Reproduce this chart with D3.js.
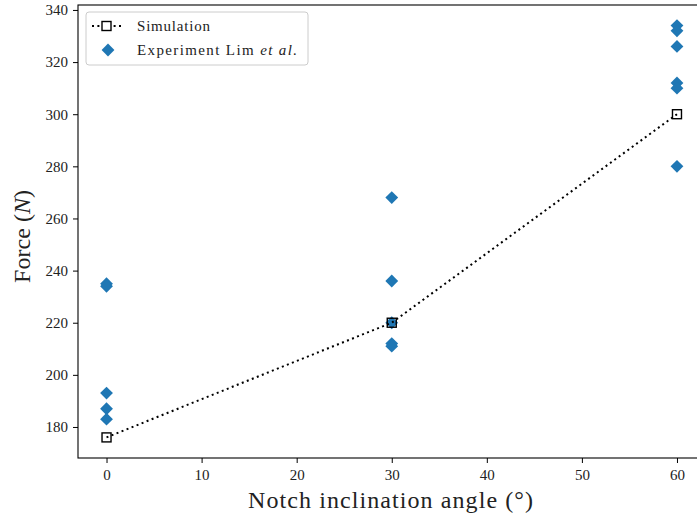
<!DOCTYPE html>
<html>
<head>
<meta charset="utf-8">
<script src="https://cdn.jsdelivr.net/npm/d3@7"></script>
<style>
  body { margin: 0; background: #fff; }
  text { font-family: "Liberation Serif", "DejaVu Serif", serif; }
</style>
</head>
<body>
<div id="graph"></div>
<script>
const width = 697,
  height = 518;

// simulation results
const simAngles = [0, 30, 60];
const simForces = [176, 220, 300];

// experiment (Lim et al.)
const expAngles = [0, 0, 0, 0, 0, 30, 30, 30, 30, 30, 60, 60, 60, 60, 60, 60];
const expForces = [235, 234, 193, 187, 183, 268, 236, 220, 212, 211, 334, 332, 326, 312, 310, 280];

const xTicks = [0, 10, 20, 30, 40, 50, 60];
const yTicks = [180, 200, 220, 240, 260, 280, 300, 320, 340];

const svg = d3.select("#graph").append("svg")
  .attr("width", width)
  .attr("height", height);

const x = d3.scaleLinear().domain([-3, 63]).range([78, 705.5]);
const y = d3.scaleLinear().domain([168.1, 341.9]).range([458, 5]);

const blue = "#1f77b4";
const diamond = d3.symbol().type(d3.symbolSquare).size(82);

// axes
const xAxis = svg.append("g")
  .attr("transform", `translate(0,${y.range()[0]})`)
  .call(d3.axisBottom(x).tickValues(xTicks).tickSize(5).tickPadding(6).tickSizeOuter(0));
const yAxis = svg.append("g")
  .attr("transform", `translate(${x.range()[0]},0)`)
  .call(d3.axisLeft(y).tickValues(yTicks).tickSize(5).tickPadding(5).tickSizeOuter(0));

[xAxis, yAxis].forEach(a => {
  a.select(".domain").remove();
  a.selectAll("line").attr("stroke", "#000").attr("stroke-width", 1);
  a.selectAll("text").attr("font-size", 15).attr("fill", "#222")
    .style("font-family", '"Liberation Serif", serif');
});

// frame
svg.append("rect")
  .attr("x", x.range()[0]).attr("y", y.range()[1])
  .attr("width", x.range()[1] - x.range()[0])
  .attr("height", y.range()[0] - y.range()[1])
  .attr("fill", "none").attr("stroke", "#000").attr("stroke-width", 1.1);

// experiment points
svg.append("g")
  .selectAll("path")
  .data(expForces)
  .join("path")
  .attr("transform", (d, i) => `translate(${x(expAngles[i])},${y(d)}) rotate(45)`)
  .attr("d", diamond)
  .attr("fill", blue);

// simulation line
const sim = simAngles.map((a, i) => [a, simForces[i]]);
svg.append("path")
  .datum(sim)
  .attr("d", d3.line().x(d => x(d[0])).y(d => y(d[1])))
  .attr("fill", "none")
  .attr("stroke", "#000")
  .attr("stroke-width", 2)
  .attr("stroke-dasharray", "2,3.4");

svg.append("g")
  .selectAll("rect")
  .data(sim)
  .join("rect")
  .attr("x", d => x(d[0]) - 4.5)
  .attr("y", d => y(d[1]) - 4.5)
  .attr("width", 9).attr("height", 9)
  .attr("fill", "none")
  .attr("stroke", "#000")
  .attr("stroke-width", 1.4);

// axis labels
svg.append("text")
  .attr("x", 248).attr("y", 508)
  .attr("font-size", 24)
  .attr("fill", "#222")
  .attr("textLength", 285)
  .attr("lengthAdjust", "spacing")
  .text("Notch inclination angle (°)");

const yl = svg.append("text")
  .attr("transform", "translate(30,283) rotate(-90)")
  .attr("font-size", 24)
  .attr("fill", "#222")
  .attr("textLength", 93)
  .attr("lengthAdjust", "spacing");
yl.append("tspan").text("Force (");
yl.append("tspan").attr("font-style", "italic").text("N");
yl.append("tspan").text(")");

// legend
const lg = svg.append("g");
lg.append("rect")
  .attr("x", 86).attr("y", 12).attr("width", 222).attr("height", 53)
  .attr("rx", 3)
  .attr("fill", "#fff").attr("fill-opacity", 0.8)
  .attr("stroke", "#ccc").attr("stroke-width", 1);
lg.append("line")
  .attr("x1", 92).attr("x2", 121).attr("y1", 26).attr("y2", 26)
  .attr("stroke", "#000").attr("stroke-width", 2)
  .attr("stroke-dasharray", "2,3.4");
lg.append("rect")
  .attr("x", 102).attr("y", 21.5).attr("width", 9).attr("height", 9)
  .attr("fill", "#fff").attr("stroke", "#000").attr("stroke-width", 1.4);
lg.append("path")
  .attr("transform", "translate(108,50) rotate(45)")
  .attr("d", diamond)
  .attr("fill", blue);
lg.append("text")
  .attr("x", 137).attr("y", 31)
  .attr("font-size", 15).attr("fill", "#222")
  .attr("textLength", 73).attr("lengthAdjust", "spacing")
  .text("Simulation");
const et = lg.append("text")
  .attr("x", 137).attr("y", 55)
  .attr("font-size", 15).attr("fill", "#222")
  .attr("textLength", 160).attr("lengthAdjust", "spacing");
et.append("tspan").text("Experiment Lim ");
et.append("tspan").attr("font-style", "italic").text("et al.");
</script>
</body>
</html>
